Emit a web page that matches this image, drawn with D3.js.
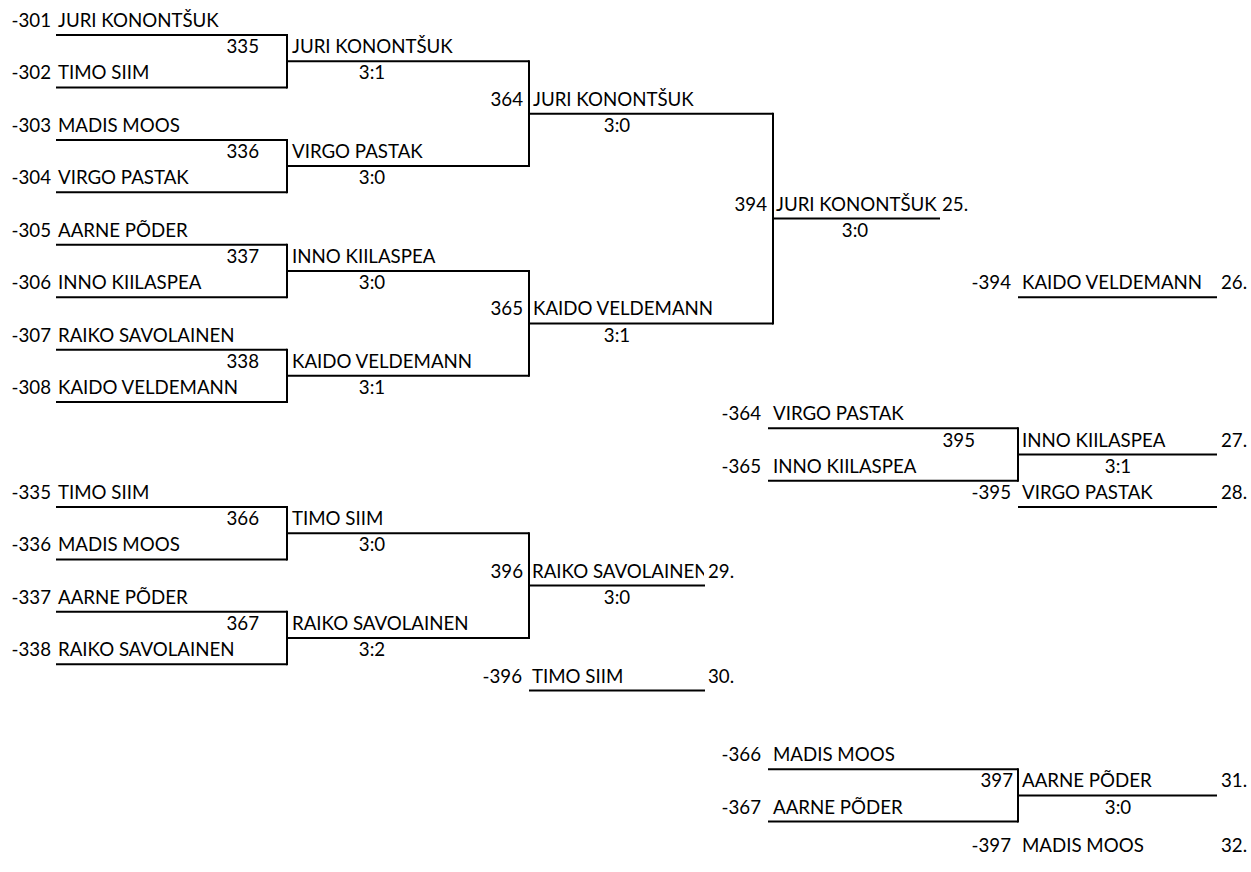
<!DOCTYPE html>
<html>
<head>
<meta charset="utf-8">
<title>Bracket</title>
<script src="https://d3js.org/d3.v7.min.js"></script>
<style>
    body { margin: 0; background: #fff; }
    text { font-family: Lato, "Open Sans", sans-serif; font-size: 18.7px; fill: #000; }
    .line { stroke: #000; stroke-width: 2px; fill: none; }
</style>
</head>
<body>
<div id="chart"></div>
<script>
    // Main bracket (places 25-26)
    var mainCodes = ["-301", "-302", "-303", "-304", "-305", "-306", "-307", "-308"];
    var mainNames = ["JURI KONONTŠUK", "TIMO SIIM", "MADIS MOOS", "VIRGO PASTAK",
        "AARNE PÕDER", "INNO KIILASPEA", "RAIKO SAVOLAINEN", "KAIDO VELDEMANN"];
    var mainMatches = [[335, 336, 337, 338], [364, 365], [394]];
    var mainWinners = [["JURI KONONTŠUK", "VIRGO PASTAK", "INNO KIILASPEA", "KAIDO VELDEMANN"],
        ["JURI KONONTŠUK", "KAIDO VELDEMANN"], ["JURI KONONTŠUK"]];
    var mainScores = [["3:1", "3:0", "3:0", "3:1"], ["3:0", "3:1"], ["3:0"]];

    // Losers of first round (places 29-30)
    var lowerCodes = ["-335", "-336", "-337", "-338"];
    var lowerNames = ["TIMO SIIM", "MADIS MOOS", "AARNE PÕDER", "RAIKO SAVOLAINEN"];
    var lowerMatches = [[366, 367], [396]];
    var lowerWinners = [["TIMO SIIM", "RAIKO SAVOLAINEN"], ["RAIKO SAVOLAINEN"]];
    var lowerScores = [["3:0", "3:2"], ["3:0"]];

    // Places 27-28
    var semiCodes = ["-364", "-365"];
    var semiNames = ["VIRGO PASTAK", "INNO KIILASPEA"];
    var semiMatches = [[395]];
    var semiWinners = [["INNO KIILASPEA"]];
    var semiScores = [["3:1"]];

    // Places 31-32
    var fifthCodes = ["-366", "-367"];
    var fifthNames = ["MADIS MOOS", "AARNE PÕDER"];
    var fifthMatches = [[397]];
    var fifthWinners = [["AARNE PÕDER"]];
    var fifthScores = [["3:0"]];

    var winnerPlaces = ["25.", "29.", "27.", "31."];
    var loserCodes = ["-394", "-395", "-396", "-397"];
    var loserNames = ["KAIDO VELDEMANN", "VIRGO PASTAK", "TIMO SIIM", "MADIS MOOS"];
    var loserPlaces = ["26.", "28.", "30.", "32."];

    // sheet row slots of each block
    var blockStartRows = [0, 18, 15, 28];
    var loserRows = [10, 18, 25, 31.45];

    var width = 1251, height = 872;
    var svg = d3.select("#chart").append("svg")
        .attr("width", width)
        .attr("height", height);

    // row index -> y of the cell bottom border
    var y = d3.scaleLinear().domain([0, 30]).range([35, 35 + 30 * 26.22]);

    // column groups
    var C0 = { codeX: 51, nameX: 58, x0: 56, x1: 287, numX: 259 };
    var C1 = { nameX: 292, x0: 287, x1: 529, scoreX: 372, numX: 523 };
    var C2 = { nameX: 533, x0: 529, x1: 773, scoreX: 617, numX: 767 };
    var C3 = { nameX: 776, x0: 773, x1: 940, scoreX: 855, placeX: 942 };
    var C2b = { codeX: 522, nameX: 532, x0: 529, x1: 705, scoreX: 617, placeX: 708, clip: true };
    var R0a = { codeX: 761, nameX: 773, x0: 768, x1: 1018, numX: 975 };
    var R0b = { codeX: 761, nameX: 773, x0: 768, x1: 1018, numX: 1013 };
    var R1 = { codeX: 1011, nameX: 1022, x0: 1018, x1: 1217, scoreX: 1118, placeX: 1221 };

    svg.append("defs").append("clipPath").attr("id", "clip396")
        .append("rect").attr("x", C2b.x0).attr("y", 0).attr("width", C2b.x1 - C2b.x0 - 1).attr("height", height);

    function hline(col, row) {
        svg.append("line").attr("class", "line")
            .attr("x1", col.x0).attr("x2", col.x1)
            .attr("y1", y(row)).attr("y2", y(row));
    }

    function label(x, row, txt, anchor, clip) {
        var t = svg.append("text")
            .attr("x", x).attr("y", y(row) - 8)
            .attr("text-anchor", anchor || "start")
            .text(txt);
        if (clip) t.attr("clip-path", "url(#clip396)");
        return t;
    }

    function drawBracket(codes, names, matches, winners, scores, startRow, cols, place) {
        // first column entrants
        var items = codes.map(function (c, i) {
            var row = startRow + 2 * i;
            label(cols[0].codeX, row, c, "end");
            label(cols[0].nameX, row, names[i]);
            hline(cols[0], row);
            return row;
        });
        matches.forEach(function (roundMatches, r) {
            var col = cols[r], next = cols[r + 1];
            var nextItems = [];
            roundMatches.forEach(function (m, j) {
                var top = items[2 * j], bottom = items[2 * j + 1];
                var mid = (top + bottom) / 2;
                svg.append("line").attr("class", "line")
                    .attr("x1", col.x1).attr("x2", col.x1)
                    .attr("y1", y(top) - 1).attr("y2", y(bottom) + 1);
                label(col.numX, mid, m, "end");
                label(next.nameX, mid, winners[r][j], "start", next.clip);
                hline(next, mid);
                svg.append("text")
                    .attr("x", next.scoreX).attr("y", y(mid + 1) - 8)
                    .attr("text-anchor", "middle")
                    .text(scores[r][j]);
                if (r === matches.length - 1) label(next.placeX, mid, place);
                nextItems.push(mid);
            });
            items = nextItems;
        });
    }

    drawBracket(mainCodes, mainNames, mainMatches, mainWinners, mainScores,
        blockStartRows[0], [C0, C1, C2, C3], winnerPlaces[0]);
    drawBracket(lowerCodes, lowerNames, lowerMatches, lowerWinners, lowerScores,
        blockStartRows[1], [C0, C1, C2b], winnerPlaces[1]);
    drawBracket(semiCodes, semiNames, semiMatches, semiWinners, semiScores,
        blockStartRows[2], [R0a, R1], winnerPlaces[2]);
    drawBracket(fifthCodes, fifthNames, fifthMatches, fifthWinners, fifthScores,
        blockStartRows[3], [R0b, R1], winnerPlaces[3]);

    // losers of the deciding matches
    var loserCols = [R1, R1, C2b, R1];
    loserCodes.forEach(function (c, i) {
        var col = loserCols[i];
        label(col.codeX, loserRows[i], c, "end");
        label(col.nameX, loserRows[i], loserNames[i]);
        label(col.placeX, loserRows[i], loserPlaces[i]);
        if (i < 3) hline(col, loserRows[i]);
    });
</script>
</body>
</html>
